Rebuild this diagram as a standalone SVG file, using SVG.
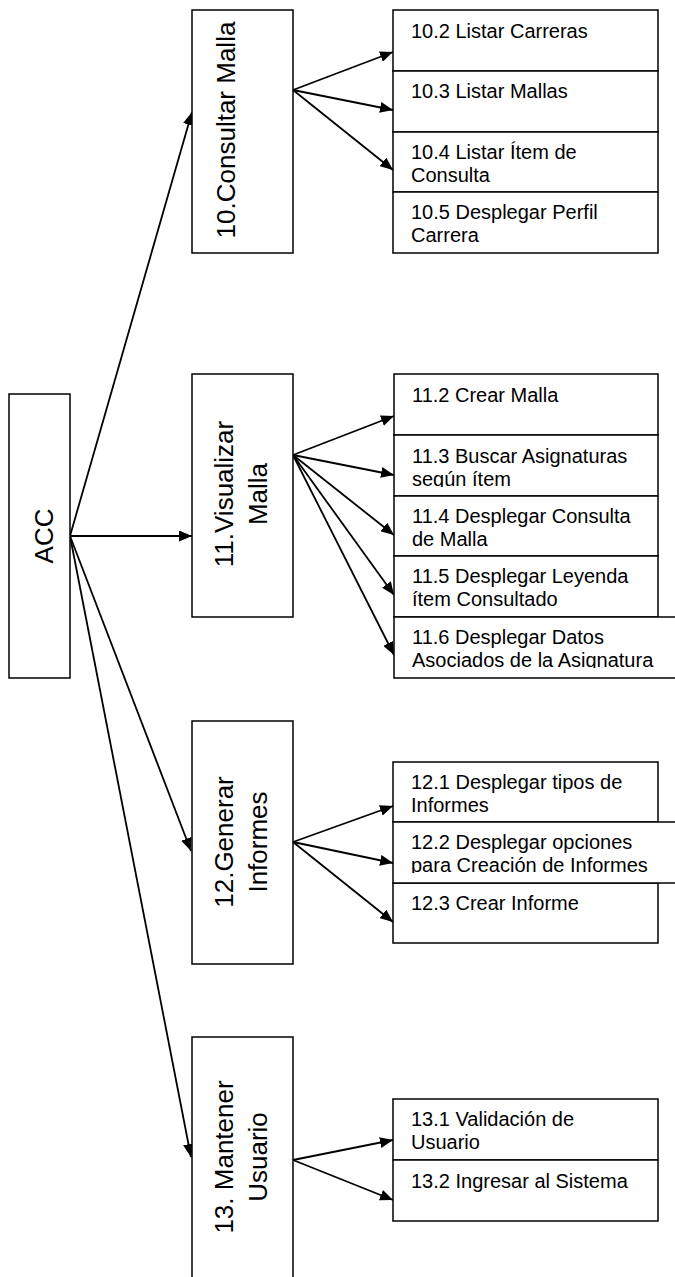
<svg xmlns="http://www.w3.org/2000/svg" width="675" height="1277" viewBox="0 0 675 1277">
  <style>
    .box { fill: #ffffff; stroke: #000000; stroke-width: 1.5; }
    .edge { fill: none; stroke: #000000; stroke-width: 1.8; marker-end: url(#arrow); }
    .big { font-family: "Liberation Sans", Arial, sans-serif; font-size: 26px; fill: #000000; text-anchor: middle; }
    .small { font-family: "Liberation Sans", Arial, sans-serif; font-size: 20px; fill: #000000; }
  </style>
  <defs>
    <marker id="arrow" viewBox="0 0 13 11" refX="13" refY="5.5" markerWidth="13" markerHeight="11" markerUnits="userSpaceOnUse" orient="auto">
      <path d="M0,0 L13,5.5 L0,11 Z" fill="#000000"/>
    </marker>
    <clipPath id="clip113"><rect x="394" y="435" width="264" height="52"/></clipPath>
    <clipPath id="clip116"><rect x="394" y="617" width="281" height="51"/></clipPath>
    <clipPath id="clip122"><rect x="393" y="822" width="282" height="51"/></clipPath>
  </defs>

  <rect width="675" height="1277" fill="#ffffff"/>

  <!-- connectors -->
  <g id="connectors">
    <line class="edge" x1="70" y1="536" x2="192" y2="112"/>
    <line class="edge" x1="70" y1="536" x2="192" y2="536"/>
    <line class="edge" x1="70" y1="536" x2="191" y2="851"/>
    <line class="edge" x1="70" y1="536" x2="191" y2="1157"/>

    <line class="edge" x1="293" y1="90" x2="393" y2="52"/>
    <line class="edge" x1="293" y1="90" x2="393" y2="110"/>
    <line class="edge" x1="293" y1="90" x2="393" y2="170"/>

    <line class="edge" x1="293" y1="455" x2="394" y2="416"/>
    <line class="edge" x1="293" y1="455" x2="394" y2="475"/>
    <line class="edge" x1="293" y1="455" x2="394" y2="535"/>
    <line class="edge" x1="293" y1="455" x2="394" y2="595"/>
    <line class="edge" x1="293" y1="455" x2="394" y2="655"/>

    <line class="edge" x1="293" y1="842" x2="393" y2="806"/>
    <line class="edge" x1="293" y1="842" x2="393" y2="863"/>
    <line class="edge" x1="293" y1="842" x2="393" y2="922"/>

    <line class="edge" x1="293" y1="1160" x2="393" y2="1140"/>
    <line class="edge" x1="293" y1="1160" x2="393" y2="1200"/>
  </g>

  <!-- root -->
  <g id="acc">
    <rect class="box" x="9" y="394" width="61" height="284"/>
    <text class="big" transform="translate(53,536) rotate(-90)">ACC</text>
  </g>

  <!-- 10 -->
  <g id="n10">
    <rect class="box" x="192" y="10" width="101" height="243"/>
    <text class="big" transform="translate(235,130) rotate(-90)">10.Consultar Malla</text>
  </g>
  <g id="n10-2">
    <rect class="box" x="393" y="10" width="265" height="61"/>
    <text class="small" x="411" y="38">10.2 Listar Carreras</text>
  </g>
  <g id="n10-3">
    <rect class="box" x="393" y="71" width="265" height="61"/>
    <text class="small" x="411" y="98">10.3 Listar Mallas</text>
  </g>
  <g id="n10-4">
    <rect class="box" x="393" y="132" width="265" height="60"/>
    <text class="small" x="411" y="159">10.4 Listar Ítem de</text>
    <text class="small" x="411" y="182">Consulta</text>
  </g>
  <g id="n10-5">
    <rect class="box" x="393" y="192" width="265" height="61"/>
    <text class="small" x="411" y="219">10.5 Desplegar Perfil</text>
    <text class="small" x="411" y="242">Carrera</text>
  </g>

  <!-- 11 -->
  <g id="n11">
    <rect class="box" x="192" y="374" width="101" height="243"/>
    <text class="big" transform="translate(233,494) rotate(-90)">11.Visualizar</text>
    <text class="big" transform="translate(267,494) rotate(-90)">Malla</text>
  </g>
  <g id="n11-2">
    <rect class="box" x="394" y="374" width="264" height="61"/>
    <text class="small" x="412" y="402">11.2 Crear Malla</text>
  </g>
  <g id="n11-3">
    <rect class="box" x="394" y="435" width="264" height="61"/>
    <g clip-path="url(#clip113)">
      <text class="small" x="412" y="463">11.3 Buscar Asignaturas</text>
      <text class="small" x="412" y="486">según ítem</text>
    </g>
  </g>
  <g id="n11-4">
    <rect class="box" x="394" y="496" width="264" height="60"/>
    <text class="small" x="412" y="523">11.4 Desplegar Consulta</text>
    <text class="small" x="412" y="546">de Malla</text>
  </g>
  <g id="n11-5">
    <rect class="box" x="394" y="556" width="264" height="61"/>
    <text class="small" x="412" y="583">11.5 Desplegar Leyenda</text>
    <text class="small" x="412" y="606">ítem Consultado</text>
  </g>
  <g id="n11-6">
    <rect class="box" x="394" y="617" width="300" height="61"/>
    <g clip-path="url(#clip116)">
      <text class="small" x="412" y="644">11.6 Desplegar Datos</text>
      <text class="small" x="412" y="667">Asociados de la Asignatura</text>
    </g>
  </g>

  <!-- 12 -->
  <g id="n12">
    <rect class="box" x="192" y="721" width="101" height="243"/>
    <text class="big" transform="translate(233,842) rotate(-90)">12.Generar</text>
    <text class="big" transform="translate(267,842) rotate(-90)">Informes</text>
  </g>
  <g id="n12-1">
    <rect class="box" x="393" y="762" width="265" height="60"/>
    <text class="small" x="411" y="789">12.1 Desplegar tipos de</text>
    <text class="small" x="411" y="812">Informes</text>
  </g>
  <g id="n12-3">
    <rect class="box" x="393" y="883" width="265" height="60"/>
    <text class="small" x="411" y="910">12.3 Crear Informe</text>
  </g>
  <g id="n12-2">
    <rect class="box" x="393" y="822" width="300" height="61"/>
    <g clip-path="url(#clip122)">
      <text class="small" x="411" y="849">12.2 Desplegar opciones</text>
      <text class="small" x="411" y="872">para Creación de Informes</text>
    </g>
  </g>

  <!-- 13: runs past the lower edge, so no bottom side is drawn -->
  <g id="n13">
    <path class="box" d="M192,1290 L192,1037 L293,1037 L293,1290"/>
    <text class="big" transform="translate(233,1157) rotate(-90)">13. Mantener</text>
    <text class="big" transform="translate(267,1157) rotate(-90)">Usuario</text>
  </g>
  <g id="n13-1">
    <rect class="box" x="393" y="1099" width="265" height="61"/>
    <text class="small" x="411" y="1126">13.1 Validación de</text>
    <text class="small" x="411" y="1149">Usuario</text>
  </g>
  <g id="n13-2">
    <rect class="box" x="393" y="1160" width="265" height="61"/>
    <text class="small" x="411" y="1188">13.2 Ingresar al Sistema</text>
  </g>
</svg>
